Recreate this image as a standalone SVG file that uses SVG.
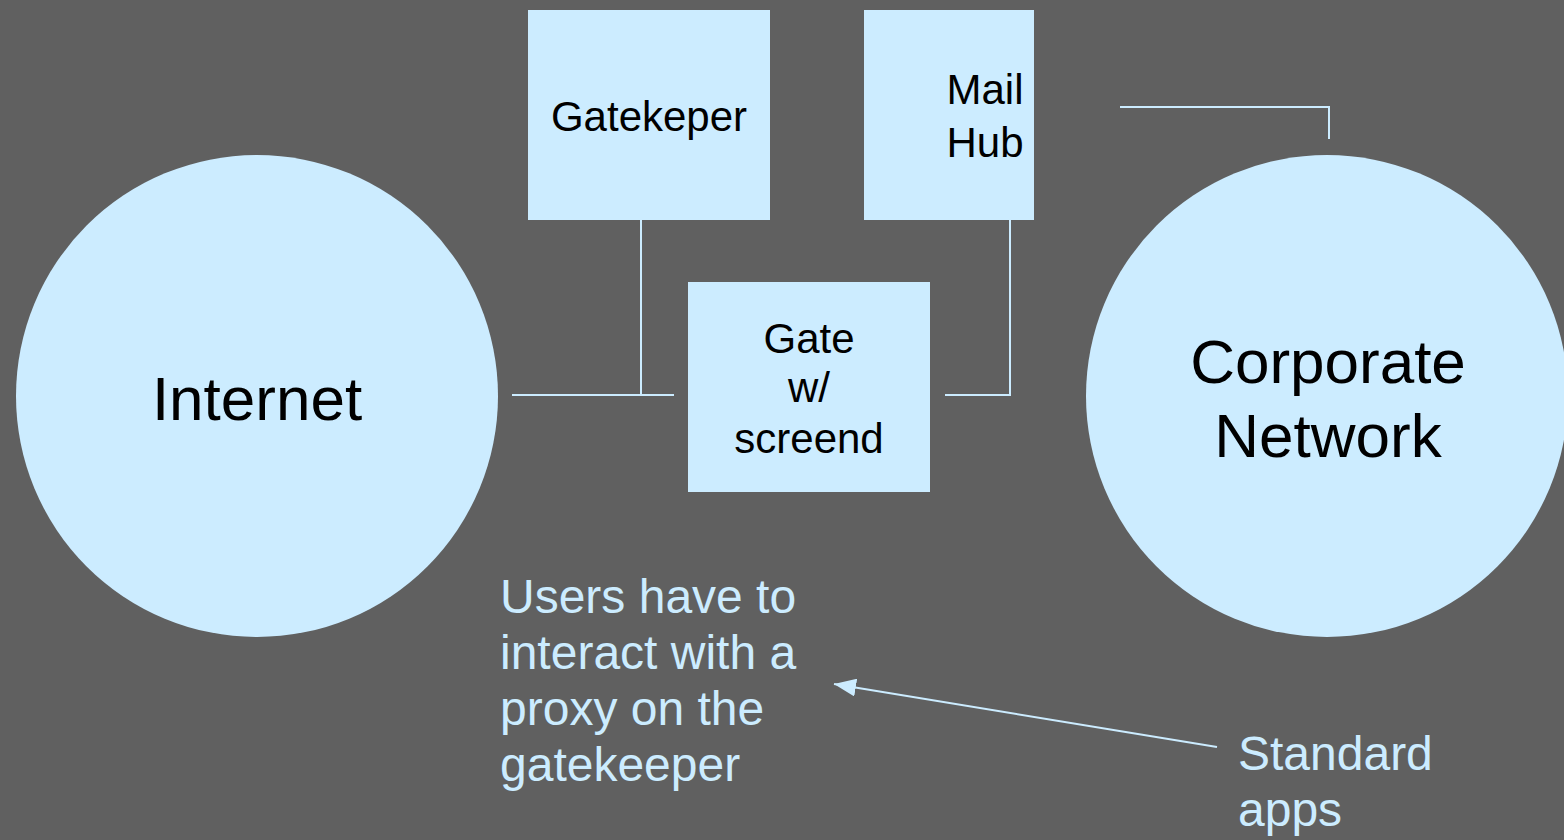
<svg xmlns="http://www.w3.org/2000/svg" width="1564" height="840" viewBox="0 0 1564 840">
<defs>
<style>
.shape{fill:#CCECFF;}
.lbl{font-family:"Liberation Sans",Arial,sans-serif;fill:#000;text-anchor:middle;}
.box{font-size:42px;}
.big{font-size:62px;}
.note{font-family:"Liberation Sans",Arial,sans-serif;fill:#CCECFF;font-size:48px;}
.conn{stroke:#CCECFF;stroke-width:2;fill:none;}
</style>
<marker id="arrow" markerUnits="userSpaceOnUse" markerWidth="24" markerHeight="18" refX="22" refY="9" orient="auto">
<path d="M0,0 L22,9 L0,18 z" fill="#CCECFF"/>
</marker>
</defs>
<rect width="1564" height="840" fill="#606060"/>
<g id="connectors">
<polyline class="conn" points="641,220 641,395"/>
<polyline class="conn" points="512,395 674,395"/>
<polyline class="conn" points="945,395 1010,395 1010,220"/>
<polyline class="conn" points="1120,107 1329,107 1329,139"/>
<line class="conn" x1="1217" y1="747" x2="834" y2="684" marker-end="url(#arrow)"/>
</g>
<g id="internet">
<circle class="shape" cx="257" cy="396" r="241"/>
<text class="lbl big" x="257" y="420">Internet</text>
</g>
<g id="corporate">
<circle class="shape" cx="1327" cy="396" r="241"/>
<text class="lbl big" x="1328" y="383">Corporate</text>
<text class="lbl big" x="1328" y="457">Network</text>
</g>
<g id="gatekeeper">
<rect class="shape" x="528" y="10" width="242" height="210"/>
<text class="lbl box" x="649" y="131">Gatekeper</text>
</g>
<g id="mailhub">
<rect class="shape" x="864" y="10" width="170" height="210"/>
<text class="lbl box" x="985" y="104">Mail</text>
<text class="lbl box" x="985" y="157">Hub</text>
</g>
<g id="gate">
<rect class="shape" x="688" y="282" width="242" height="210"/>
<text class="lbl box" x="809" y="353">Gate</text>
<text class="lbl box" x="809" y="402">w/</text>
<text class="lbl box" x="809" y="453">screend</text>
</g>
<g id="note-users">
<text class="note" x="500" y="613">Users have to</text>
<text class="note" x="500" y="669">interact with a</text>
<text class="note" x="500" y="725">proxy on the</text>
<text class="note" x="500" y="781">gatekeeper</text>
</g>
<g id="note-standard">
<text class="note" x="1238" y="770">Standard</text>
<text class="note" x="1238" y="826">apps</text>
</g>
</svg>
